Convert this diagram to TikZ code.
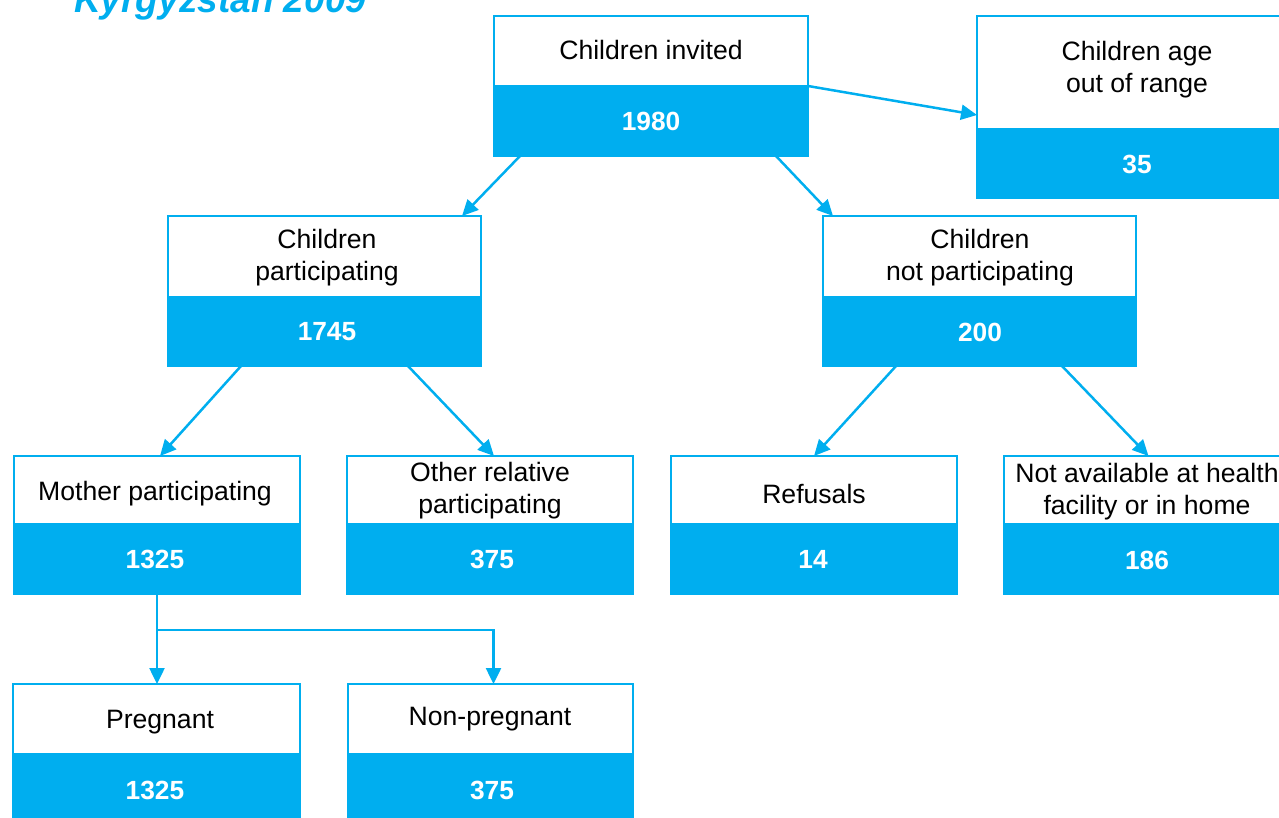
\documentclass[tikz,border=0pt]{standalone}
\usepackage{fontspec}
\setmainfont{Liberation Sans}
\usetikzlibrary{arrows.meta,calc}
\definecolor{cy}{HTML}{00AEEF}
\tikzset{
  boxframe/.style={draw=cy, line width=2.4pt, inner sep=0pt, outer sep=0pt},
  lab/.style={text=black, align=center, font=\fontsize{26.6}{32}\selectfont, inner sep=0pt},
  num/.style={text=white, font=\fontsize{26.3}{32}\selectfont\bfseries, inner sep=0pt},
  arr/.style={draw=cy, line width=2.5pt, -{Triangle[length=16pt,width=15pt]}},
  ttl/.style={text=cy, font=\fontsize{37}{44}\selectfont\bfseries\itshape, inner sep=0pt}
}
% name, x1, y1, x2, split, y2
\newcommand{\flowbox}[6]{%
  \fill[cy] (#2,#5) rectangle (#4,#6);
  \node[boxframe, anchor=north west, minimum width={#4-#2}, minimum height={#6-#3}] (#1) at (#2,#3) {};
}
\begin{document}
\begin{tikzpicture}[x=1pt,y=-1pt]
\useasboundingbox (0,0) rectangle (1279,818);
\clip (0,0) rectangle (1279,818);

\node[ttl, anchor=base west] (title) at (74,13) {Kyrgyzstan 2009};

\flowbox{inv}{494}{16}{808}{85}{156}
\flowbox{age}{977}{16}{1297}{128}{198}
\flowbox{part}{168}{216}{481}{296}{366}
\flowbox{npart}{823}{216}{1136}{296}{366}
\flowbox{moth}{14}{456}{300}{523}{594}
\flowbox{other}{347}{456}{633}{523}{594}
\flowbox{ref}{671}{456}{957}{523}{594}
\flowbox{nav}{1004}{456}{1291}{523}{594}
\flowbox{preg}{13}{684}{300}{753}{840}
\flowbox{nonp}{348}{684}{633}{753}{840}

\node[lab] (inv-t) at (651,50) {Children invited};
\node[num] (inv-n) at (651,121) {1980};
\node[lab] (age-t) at (1137,70) {Children age\\ out of range};
\node[num] (age-n) at (1137,164) {35};
\node[lab] (part-t) at (327,258) {Children\\participating};
\node[num] (part-n) at (327,332) {1745};
\node[lab] (npart-t) at (980,258) {Children\\not participating};
\node[num] (npart-n) at (980,332) {200};
\node[lab] (moth-t) at (155,494) {Mother participating};
\node[num] (moth-n) at (155,559) {1325};
\node[lab] (other-t) at (490,491) {Other relative\\participating};
\node[num] (other-n) at (492,559) {375};
\node[lab] (ref-t) at (814,494) {Refusals};
\node[num] (ref-n) at (813,559) {14};
\node[lab] (nav-t) at (1147,492) {Not available at health\\facility or in home};
\node[num] (nav-n) at (1147,560) {186};
\node[lab] (preg-t) at (160,722) {Pregnant};
\node[num] (preg-n) at (155,790) {1325};
\node[lab] (nonp-t) at (490,719) {Non-pregnant};
\node[num] (nonp-n) at (492,790) {375};

\draw[arr] ($(inv.north east)+(0,70)$) -- ($(age.north west)+(0,99)$);
\draw[arr] ($(inv.south west)+(26,0)$) -- ($(part.north east)+(-19,0)$);
\draw[arr] ($(inv.south east)+(-32,0)$) -- ($(npart.north west)+(10,0)$);
\draw[arr] ($(part.south west)+(73,0)$) -- ($(moth.north)+(3,0)$);
\draw[arr] ($(part.south east)+(-73,0)$) -- ($(other.north)+(4,0)$);
\draw[arr] ($(npart.south west)+(73,0)$) -- ($(ref.north)+(0,0)$);
\draw[arr] ($(npart.south east)+(-74,0)$) -- ($(nav.north)+(1,0)$);
\coordinate (fork) at ($(moth.south)+(0,36)$);
\draw[arr] (moth.south) -- (moth.south |- preg.north);
\draw[arr] (fork) -| ($(nonp.north)+(3,0)$);
\end{tikzpicture}
\end{document}
